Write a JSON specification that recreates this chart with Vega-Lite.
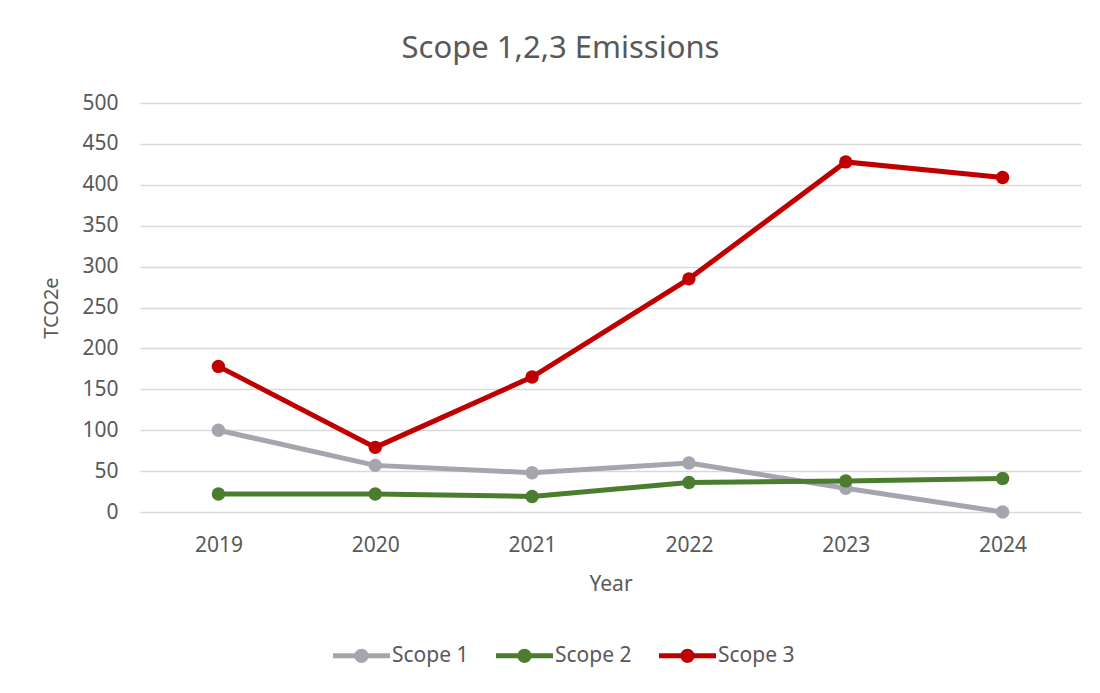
{
  "$schema": "https://vega.github.io/schema/vega-lite/v6.json",
  "width": 941,
  "height": 409,
  "autosize": {"type": "none"},
  "padding": {"left": 140, "top": 103, "right": 19, "bottom": 181},
  "background": "white",
  "title": {
    "text": "Scope 1,2,3 Emissions",
    "font": "Noto Sans",
    "fontSize": 31,
    "fontWeight": "normal",
    "color": "#595959",
    "anchor": "middle",
    "offset": 27,
    "dx": -50
  },
  "data": {
    "values": [
      {"Year": "2019", "Series": "Scope 1", "Value": 100},
      {"Year": "2020", "Series": "Scope 1", "Value": 57},
      {"Year": "2021", "Series": "Scope 1", "Value": 48},
      {"Year": "2022", "Series": "Scope 1", "Value": 60},
      {"Year": "2023", "Series": "Scope 1", "Value": 29},
      {"Year": "2024", "Series": "Scope 1", "Value": 0},
      {"Year": "2019", "Series": "Scope 2", "Value": 22},
      {"Year": "2020", "Series": "Scope 2", "Value": 22},
      {"Year": "2021", "Series": "Scope 2", "Value": 19},
      {"Year": "2022", "Series": "Scope 2", "Value": 36},
      {"Year": "2023", "Series": "Scope 2", "Value": 38},
      {"Year": "2024", "Series": "Scope 2", "Value": 41},
      {"Year": "2019", "Series": "Scope 3", "Value": 178},
      {"Year": "2020", "Series": "Scope 3", "Value": 79},
      {"Year": "2021", "Series": "Scope 3", "Value": 165},
      {"Year": "2022", "Series": "Scope 3", "Value": 285},
      {"Year": "2023", "Series": "Scope 3", "Value": 428},
      {"Year": "2024", "Series": "Scope 3", "Value": 409}
    ]
  },
  "encoding": {
    "x": {
      "field": "Year",
      "type": "ordinal",
      "scale": {"type": "point", "padding": 0.5},
      "axis": {
        "title": "Year",
        "labelAngle": 0,
        "labelPadding": 22,
        "ticks": false,
        "domain": false,
        "titlePadding": 18,
        "titleFontSize": 21,
        "grid": false
      }
    },
    "y": {
      "field": "Value",
      "type": "quantitative",
      "scale": {"domain": [0, 500]},
      "axis": {
        "title": "TCO2e",
        "values": [0, 50, 100, 150, 200, 250, 300, 350, 400, 450, 500],
        "ticks": false,
        "domain": false,
        "labelPadding": 22,
        "titlePadding": 20,
        "titleFontSize": 20
      }
    },
    "color": {
      "field": "Series",
      "type": "nominal",
      "scale": {
        "domain": ["Scope 1", "Scope 2", "Scope 3"],
        "range": ["#a5a5ae", "#4a7e2e", "#c00000"]
      },
      "legend": {
        "title": null,
        "orient": "none",
        "direction": "horizontal",
        "legendX": 193,
        "legendY": 524,
        "symbolType": "M-1,-0.09H1V0.09H-1Z M0.25,0 A0.25,0.25 0 1,1 -0.25,0 A0.25,0.25 0 1,1 0.25,0Z",
        "symbolSize": 3249,
        "symbolStrokeWidth": 0,
        "labelFontSize": 21,
        "labelColor": "#595959",
        "labelFont": "Noto Sans",
        "labelOffset": 2,
        "columnPadding": 27
      }
    }
  },
  "layer": [
    {"mark": {"type": "line", "strokeWidth": 5}},
    {"mark": {"type": "point", "filled": true, "size": 180, "opacity": 1}}
  ],
  "config": {
    "view": {"stroke": null},
    "axis": {
      "labelFont": "Noto Sans",
      "labelFontSize": 21,
      "labelColor": "#595959",
      "titleFont": "Noto Sans",
      "titleFontWeight": "normal",
      "titleColor": "#595959",
      "gridColor": "#d9d9d9",
      "gridWidth": 1.5
    }
  }
}
